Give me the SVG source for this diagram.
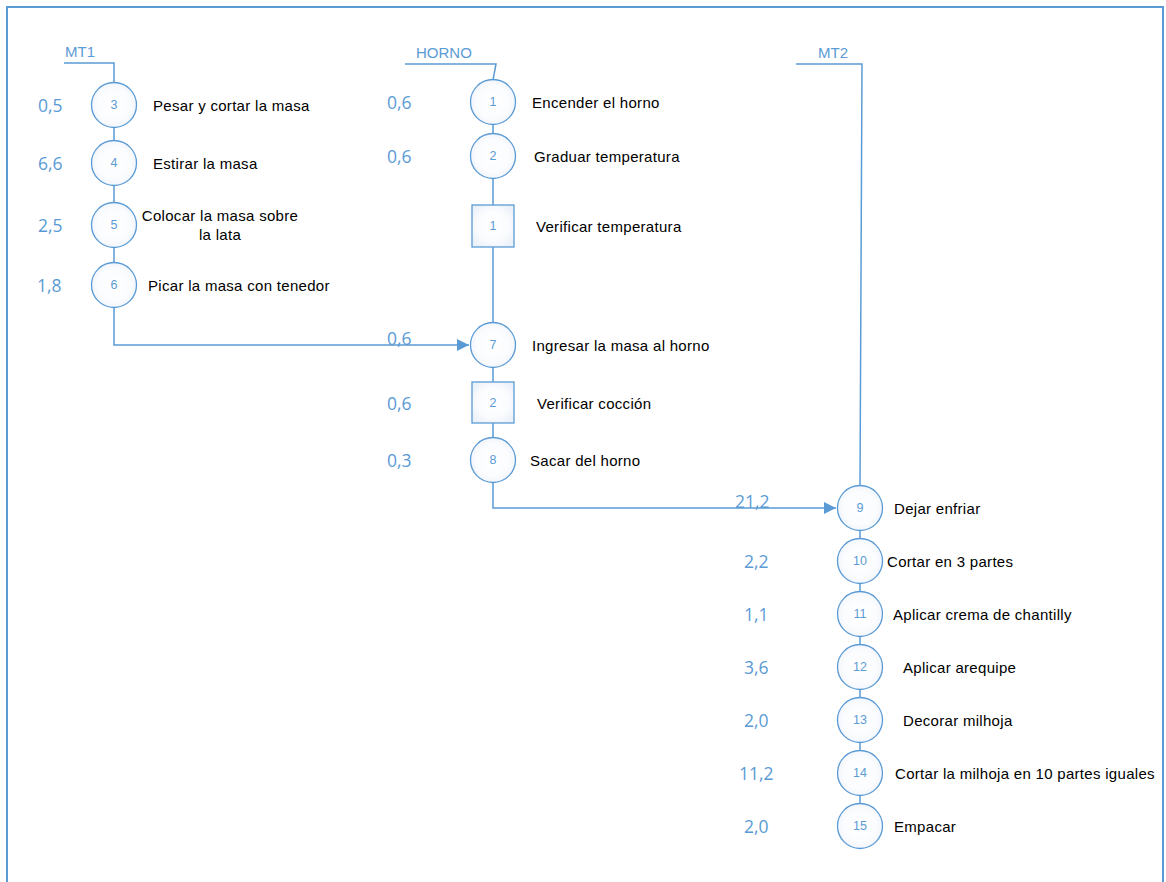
<svg xmlns="http://www.w3.org/2000/svg" width="1166" height="882" viewBox="0 0 1166 882">
<defs>
<radialGradient id="g" cx="0.5" cy="0.5" r="0.6">
<stop offset="0" stop-color="#ffffff"/>
<stop offset="0.6" stop-color="#fbfcfe"/>
<stop offset="1" stop-color="#ebf1f9"/>
</radialGradient>
<marker id="arr" viewBox="0 0 10 10" refX="10" refY="5" markerWidth="12" markerHeight="12" markerUnits="userSpaceOnUse" orient="auto">
<path d="M0,0 L10,5 L0,10 z" fill="#5b9bd5"/>
</marker>
</defs>
<style>
.frame{fill:none;stroke:#5b9bd5;stroke-width:2}
.ln{fill:none;stroke:#5b9bd5;stroke-width:1.5}
.op{fill:url(#g);stroke:#5b9bd5;stroke-width:1.3}
.n{font-family:"Liberation Sans",Arial,sans-serif;font-size:12.5px;fill:#5b9bd5;text-anchor:middle;dominant-baseline:central}
.t{font-family:"Liberation Sans",Arial,sans-serif;font-size:15px;fill:#000;dominant-baseline:central;letter-spacing:0.3px}
.v{font-family:"Open Sans","Liberation Sans",sans-serif;font-size:17.5px;fill:#5b9bd5;dominant-baseline:central}
.h{font-family:"Liberation Sans",Arial,sans-serif;font-size:15px;fill:#5b9bd5}
</style>
<rect width="1166" height="882" fill="#fff"/>
<path class="frame" d="M7,890 V7 H1163 V890"/>

<g id="connectors">
<path class="ln" d="M64,63 H114 V82"/>
<path class="ln" d="M114,128 V141 M114,186 V203 M114,248 V263"/>
<path class="ln" d="M114,308 V345 H469" marker-end="url(#arr)"/>
<path class="ln" d="M405,64 H496 L493,80"/>
<path class="ln" d="M493,125 V134 M493,179 V205 M493,247 V322 M493,368 V382 M493,423 V437"/>
<path class="ln" d="M493,483 V508 H836" marker-end="url(#arr)"/>
<path class="ln" d="M796,64 H862 L860,485"/>
<path class="ln" d="M860,531 V538 M860,584 V591 M860,637 V644 M860,690 V697 M860,743 V750 M860,796 V803"/>
</g>

<g id="labels">
<text class="h" x="65" y="57">MT1</text>
<text class="h" x="416" y="58">HORNO</text>
<text class="h" x="818" y="58">MT2</text>
</g>

<g id="op3"><circle class="op" cx="114" cy="105" r="22.5"/><text class="n" x="114" y="105">3</text><text class="t" x="153" y="105">Pesar y cortar la masa</text><text class="v" x="38" y="105">0,5</text></g>
<g id="op4"><circle class="op" cx="114" cy="163" r="22.5"/><text class="n" x="114" y="163">4</text><text class="t" x="153" y="163">Estirar la masa</text><text class="v" x="38" y="163">6,6</text></g>
<g id="op5"><circle class="op" cx="114" cy="225" r="22.5"/><text class="n" x="114" y="225">5</text><text class="t" x="220" y="215" text-anchor="middle">Colocar la masa sobre</text><text class="t" x="220" y="234" text-anchor="middle">la lata</text><text class="v" x="38" y="225">2,5</text></g>
<g id="op6"><circle class="op" cx="114" cy="285" r="22.5"/><text class="n" x="114" y="285">6</text><text class="t" x="148" y="285">Picar la masa con tenedor</text><text class="v" x="37" y="285">1,8</text></g>

<g id="op1"><circle class="op" cx="493" cy="102" r="22.5"/><text class="n" x="493" y="102">1</text><text class="t" x="532" y="102">Encender el horno</text><text class="v" x="387" y="102">0,6</text></g>
<g id="op2"><circle class="op" cx="493" cy="156" r="22.5"/><text class="n" x="493" y="156">2</text><text class="t" x="534" y="156">Graduar temperatura</text><text class="v" x="387" y="156">0,6</text></g>
<g id="ins1"><rect class="op" x="472" y="205" width="42" height="42"/><text class="n" x="493" y="226">1</text><text class="t" x="536" y="226">Verificar temperatura</text></g>
<g id="op7"><circle class="op" cx="493" cy="345" r="22.5"/><text class="n" x="493" y="345">7</text><text class="t" x="532" y="345">Ingresar la masa al horno</text><text class="v" x="387" y="338">0,6</text></g>
<g id="ins2"><rect class="op" x="472" y="382" width="42" height="41"/><text class="n" x="493" y="403">2</text><text class="t" x="537" y="403">Verificar cocción</text><text class="v" x="387" y="403">0,6</text></g>
<g id="op8"><circle class="op" cx="493" cy="460" r="22.5"/><text class="n" x="493" y="460">8</text><text class="t" x="530" y="460">Sacar del horno</text><text class="v" x="387" y="460">0,3</text></g>

<g id="op9"><circle class="op" cx="860" cy="508" r="22.5"/><text class="n" x="860" y="508">9</text><text class="t" x="894" y="508">Dejar enfriar</text><text class="v" x="735" y="501">21,2</text></g>
<g id="op10"><circle class="op" cx="860" cy="561" r="22.5"/><text class="n" x="860" y="561">10</text><text class="t" x="887" y="561">Cortar en 3 partes</text><text class="v" x="744" y="561">2,2</text></g>
<g id="op11"><circle class="op" cx="860" cy="614" r="22.5"/><text class="n" x="860" y="614">11</text><text class="t" x="893" y="614">Aplicar crema de chantilly</text><text class="v" x="744" y="614">1,1</text></g>
<g id="op12"><circle class="op" cx="860" cy="667" r="22.5"/><text class="n" x="860" y="667">12</text><text class="t" x="903" y="667">Aplicar arequipe</text><text class="v" x="744" y="667">3,6</text></g>
<g id="op13"><circle class="op" cx="860" cy="720" r="22.5"/><text class="n" x="860" y="720">13</text><text class="t" x="903" y="720">Decorar milhoja</text><text class="v" x="744" y="720">2,0</text></g>
<g id="op14"><circle class="op" cx="860" cy="773" r="22.5"/><text class="n" x="860" y="773">14</text><text class="t" x="895" y="773">Cortar la milhoja en 10 partes iguales</text><text class="v" x="739" y="773">11,2</text></g>
<g id="op15"><circle class="op" cx="860" cy="826" r="22.5"/><text class="n" x="860" y="826">15</text><text class="t" x="894" y="826">Empacar</text><text class="v" x="744" y="826">2,0</text></g>
</svg>
